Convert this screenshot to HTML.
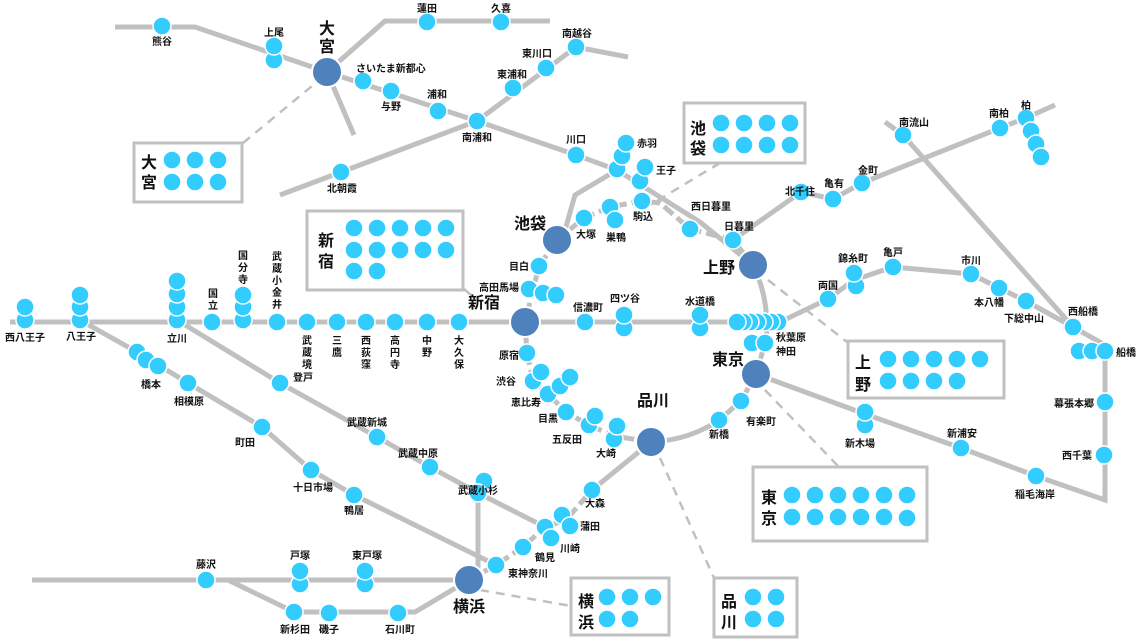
<!DOCTYPE html>
<html><head><meta charset="utf-8"><style>
html,body{margin:0;padding:0;background:#fff}
svg{display:block}
text{font-family:"Liberation Sans","Noto Sans CJK JP",sans-serif;font-weight:bold;fill:#111}
.s{font-size:10px}
.h{font-size:16px}
.l{fill:none;stroke:#c0c0c0;stroke-width:5}
.d{fill:none;stroke:#c0c0c0;stroke-width:2.5;stroke-dasharray:9 7}
.yd{fill:none;stroke:#c0c0c0;stroke-width:5;stroke-dasharray:12 5}
.b{fill:#fff;stroke:#c0c0c0;stroke-width:3}
circle{fill:#33ccff;stroke:#fff;stroke-width:1.5}
circle.hub{fill:#4f81bd;stroke:#fff;stroke-width:2}
</style></head><body>
<svg width="1140" height="642" viewBox="0 0 1140 642" xmlns="http://www.w3.org/2000/svg">
<path class="d" d="M243 143 L312 86"/>
<path class="d" d="M720 163 L650 205"/>
<path class="d" d="M768 280 L847 342"/>
<path class="d" d="M765 390 L838 466"/>
<path class="d" d="M660 458 L714 578"/>
<path class="d" d="M480 590 L571 606"/>
<path class="l" style="stroke-width:2.5" d="M463 288 L472 296"/>
<rect class="b" x="134" y="143" width="108" height="59"/>
<rect class="b" x="307" y="211" width="156" height="79"/>
<rect class="b" x="684" y="103" width="121" height="60"/>
<rect class="b" x="848" y="341" width="156" height="57"/>
<rect class="b" x="753" y="467" width="174" height="74"/>
<rect class="b" x="714" y="578" width="83" height="59"/>
<rect class="b" x="571" y="578" width="98" height="57"/>
<path class="l" d="M115 27 L195 27 L327 72"/>
<path class="l" d="M327 72 L385 21 L550 21"/>
<path class="l" d="M327 72 L354 135"/>
<path class="l" d="M327 72 L477 121 L576 155 L617 170 L700 222 L753 265"/>
<path class="l" d="M280 195 L477 121 L576 47 L628 57"/>
<path class="l" d="M617 170 L575 195 L565 230 L557 240"/>
<path class="yd" d="M557 240 L584 218 L610 207 L642 201 L660 203 L690 229 L733 240 L753 265"/>
<path class="l" d="M753 265 Q770 300 766 340 L756 374"/>
<path class="l" d="M756 374 L741 401 L719 420 Q690 440 651 442"/>
<path class="yd" d="M651 442 L614 436 L589 425 L566 412 L548 394 L533 381 L527 353 L525 322 L539 266 L557 240"/>
<path class="l" d="M10 322 L780 322"/>
<path class="l" d="M780 322 L828 299 L854 280 L893 267 L971 274 L999 288 L1026 301 L1073 327 L1105 345 L1105 500 L1036 476 L961 448 L865 414 L756 374"/>
<path class="l" d="M885 122 L903 135 L1073 327"/>
<path class="l" d="M733 240 L801 192 L833 199 L862 183 L1000 128 L1026 118 L1055 105"/>
<path class="l" d="M177 320 L280 383 L377 437 L430 467 L478 493 L545 527"/>
<path class="l" d="M80 320 L137 352 L188 383 L262 427 L311 470 L354 495 L496 565"/>
<path class="l" d="M478 493 L478 578"/>
<path class="yd" d="M469 580 L496 565 L523 547 L545 527 L566 520 L592 490"/>
<path class="l" d="M592 490 L651 442"/>
<path class="l" d="M32 580 L469 580"/>
<path class="l" d="M228 580 L294 612 L415 612 L469 580"/>
<g>
<circle cx="162" cy="26" r="9"/>
<circle cx="274" cy="60" r="9"/><circle cx="274" cy="46" r="9"/>
<circle cx="427" cy="22" r="9"/><circle cx="501" cy="22" r="9"/>
<circle cx="363" cy="81" r="9"/><circle cx="391" cy="91" r="9"/>
<circle cx="438" cy="111" r="9"/><circle cx="477" cy="121" r="9"/>
<circle cx="513" cy="88" r="9"/><circle cx="546" cy="68" r="9"/><circle cx="576" cy="47" r="9"/>
<circle cx="341" cy="172" r="9"/>
<circle cx="576" cy="155" r="9"/>
<circle cx="617" cy="169" r="9"/><circle cx="622" cy="156" r="9"/><circle cx="626" cy="143" r="9"/>
<circle cx="640" cy="181" r="9"/><circle cx="645" cy="167" r="9"/>
<circle cx="584" cy="218" r="9"/>
<circle cx="610" cy="207" r="9"/><circle cx="615" cy="220" r="9"/>
<circle cx="642" cy="201" r="9"/>
<circle cx="690" cy="229" r="9"/><circle cx="733" cy="240" r="9"/>
<circle cx="801" cy="192" r="9"/><circle cx="833" cy="199" r="9"/><circle cx="862" cy="183" r="9"/>
<circle cx="1000" cy="128" r="9"/><circle cx="903" cy="135" r="9"/>
<circle cx="1026" cy="118" r="9"/><circle cx="1031" cy="131" r="9"/><circle cx="1036" cy="144" r="9"/><circle cx="1041" cy="157" r="9"/>
<circle cx="539" cy="266" r="9"/>
<circle cx="529" cy="289" r="9"/><circle cx="543" cy="293" r="9"/><circle cx="556" cy="295" r="9"/>
<circle cx="527" cy="353" r="9"/>
<circle cx="533" cy="381" r="9"/><circle cx="541" cy="372" r="9"/>
<circle cx="548" cy="394" r="9"/><circle cx="560" cy="386" r="9"/><circle cx="570" cy="377" r="9"/>
<circle cx="566" cy="412" r="9"/>
<circle cx="589" cy="425" r="9"/><circle cx="595" cy="416" r="9"/>
<circle cx="614" cy="439" r="9"/><circle cx="617" cy="426" r="9"/>
<circle cx="719" cy="420" r="9"/><circle cx="741" cy="401" r="9"/>
<circle cx="752" cy="343" r="9"/><circle cx="765" cy="343" r="9"/>
<circle cx="25" cy="320" r="9"/><circle cx="25" cy="307" r="9"/>
<circle cx="80" cy="320" r="9"/><circle cx="80" cy="307" r="9"/><circle cx="80" cy="295" r="9"/>
<circle cx="177" cy="320" r="9"/><circle cx="177" cy="307" r="9"/><circle cx="177" cy="294" r="9"/><circle cx="177" cy="281" r="9"/>
<circle cx="212" cy="322" r="9"/>
<circle cx="243" cy="320" r="9"/><circle cx="243" cy="307" r="9"/><circle cx="243" cy="295" r="9"/>
<circle cx="277" cy="322" r="9"/><circle cx="307" cy="322" r="9"/><circle cx="337" cy="322" r="9"/>
<circle cx="366" cy="322" r="9"/><circle cx="395" cy="322" r="9"/><circle cx="427" cy="322" r="9"/><circle cx="459" cy="322" r="9"/>
<circle cx="585" cy="322" r="9"/>
<circle cx="624" cy="328" r="9"/><circle cx="624" cy="315" r="9"/>
<circle cx="700" cy="328" r="9"/><circle cx="700" cy="315" r="9"/>
<circle cx="778" cy="322" r="9"/><circle cx="771" cy="322" r="9"/><circle cx="764" cy="322" r="9"/><circle cx="757" cy="322" r="9"/><circle cx="750" cy="322" r="9"/><circle cx="743" cy="322" r="9"/><circle cx="737" cy="322" r="9"/>
<circle cx="828" cy="299" r="9"/>
<circle cx="856" cy="286" r="9"/><circle cx="854" cy="273" r="9"/>
<circle cx="893" cy="267" r="9"/><circle cx="971" cy="274" r="9"/><circle cx="999" cy="288" r="9"/><circle cx="1026" cy="301" r="9"/>
<circle cx="1073" cy="327" r="9"/>
<circle cx="1079" cy="351" r="9"/><circle cx="1092" cy="351" r="9"/><circle cx="1105" cy="351" r="9"/>
<circle cx="1105" cy="402" r="9"/><circle cx="1104" cy="455" r="9"/>
<circle cx="1036" cy="476" r="9"/><circle cx="961" cy="448" r="9"/>
<circle cx="865" cy="425" r="9"/><circle cx="865" cy="412" r="9"/>
<circle cx="137" cy="352" r="9"/><circle cx="146" cy="360" r="9"/><circle cx="158" cy="366" r="9"/>
<circle cx="188" cy="383" r="9"/><circle cx="262" cy="427" r="9"/><circle cx="311" cy="470" r="9"/><circle cx="354" cy="495" r="9"/>
<circle cx="280" cy="383" r="9"/><circle cx="377" cy="437" r="9"/><circle cx="430" cy="467" r="9"/>
<circle cx="484" cy="481" r="9"/><circle cx="478" cy="493" r="9"/>
<circle cx="496" cy="565" r="9"/><circle cx="523" cy="547" r="9"/>
<circle cx="545" cy="527" r="9"/><circle cx="551" cy="538" r="9"/>
<circle cx="562" cy="515" r="9"/><circle cx="570" cy="526" r="9"/>
<circle cx="592" cy="490" r="9"/>
<circle cx="206" cy="580" r="9"/>
<circle cx="300" cy="584" r="9"/><circle cx="300" cy="571" r="9"/>
<circle cx="365" cy="584" r="9"/><circle cx="365" cy="571" r="9"/>
<circle cx="294" cy="612" r="9"/><circle cx="329" cy="613" r="9"/><circle cx="398" cy="613" r="9"/>
</g>
<circle class="hub" cx="327" cy="72" r="15"/>
<circle class="hub" cx="525" cy="322" r="15"/>
<circle class="hub" cx="557" cy="240" r="15"/>
<circle class="hub" cx="753" cy="265" r="15"/>
<circle class="hub" cx="756" cy="374" r="15"/>
<circle class="hub" cx="651" cy="442" r="15"/>
<circle class="hub" cx="469" cy="580" r="15"/>
<g>
<circle cx="172" cy="160" r="9"/><circle cx="195" cy="160" r="9"/><circle cx="218" cy="160" r="9"/>
<circle cx="172" cy="182" r="9"/><circle cx="195" cy="182" r="9"/><circle cx="218" cy="182" r="9"/>
<circle cx="354" cy="228" r="9"/><circle cx="377" cy="228" r="9"/><circle cx="400" cy="228" r="9"/><circle cx="423" cy="228" r="9"/><circle cx="446" cy="228" r="9"/>
<circle cx="354" cy="250" r="9"/><circle cx="377" cy="250" r="9"/><circle cx="400" cy="250" r="9"/><circle cx="423" cy="250" r="9"/><circle cx="446" cy="250" r="9"/>
<circle cx="354" cy="271" r="9"/><circle cx="377" cy="271" r="9"/>
<circle cx="721" cy="123" r="9"/><circle cx="744" cy="123" r="9"/><circle cx="767" cy="123" r="9"/><circle cx="790" cy="123" r="9"/>
<circle cx="721" cy="145" r="9"/><circle cx="744" cy="145" r="9"/><circle cx="767" cy="145" r="9"/><circle cx="790" cy="145" r="9"/>
<circle cx="888" cy="359" r="9"/><circle cx="911" cy="359" r="9"/><circle cx="934" cy="359" r="9"/><circle cx="957" cy="359" r="9"/><circle cx="980" cy="359" r="9"/>
<circle cx="888" cy="381" r="9"/><circle cx="911" cy="381" r="9"/><circle cx="934" cy="381" r="9"/><circle cx="957" cy="381" r="9"/>
<circle cx="792" cy="495" r="9"/><circle cx="815" cy="495" r="9"/><circle cx="838" cy="495" r="9"/><circle cx="861" cy="495" r="9"/><circle cx="884" cy="495" r="9"/><circle cx="907" cy="495" r="9"/>
<circle cx="792" cy="517" r="9"/><circle cx="815" cy="517" r="9"/><circle cx="838" cy="517" r="9"/><circle cx="861" cy="517" r="9"/><circle cx="884" cy="517" r="9"/><circle cx="907" cy="518" r="9"/>
<circle cx="753" cy="597" r="9"/><circle cx="776" cy="597" r="9"/><circle cx="753" cy="619" r="9"/><circle cx="776" cy="619" r="9"/>
<circle cx="607" cy="597" r="9"/><circle cx="630" cy="597" r="9"/><circle cx="653" cy="597" r="9"/>
<circle cx="607" cy="619" r="9"/><circle cx="630" cy="619" r="9"/>
</g>
<text class="h" x="141" y="168">大</text><text class="h" x="141" y="188">宮</text>
<text class="h" x="318" y="246">新</text><text class="h" x="318" y="267">宿</text>
<text class="h" x="690" y="134">池</text><text class="h" x="690" y="154">袋</text>
<text class="h" x="855" y="368">上</text><text class="h" x="855" y="390">野</text>
<text class="h" x="761" y="503">東</text><text class="h" x="761" y="524">京</text>
<text class="h" x="721" y="607">品</text><text class="h" x="721" y="628">川</text>
<text class="h" x="578" y="607">横</text><text class="h" x="578" y="628">浜</text>
<text class="h" x="319" y="34">大</text><text class="h" x="319" y="52">宮</text>
<text class="h" x="468" y="308">新宿</text>
<text class="h" x="514" y="229">池袋</text>
<text class="h" x="703" y="273">上野</text>
<text class="h" x="712" y="365">東京</text>
<text class="h" x="637" y="406">品川</text>
<text class="h" x="453" y="612">横浜</text>
<g>
<text class="s" x="152" y="45">熊谷</text>
<text class="s" x="264" y="36">上尾</text>
<text class="s" x="417" y="12">蓮田</text>
<text class="s" x="491" y="12">久喜</text>
<text class="s" x="356" y="72">さいたま新都心</text>
<text class="s" x="381" y="110">与野</text>
<text class="s" x="427" y="98">浦和</text>
<text class="s" x="462" y="141">南浦和</text>
<text class="s" x="497" y="78">東浦和</text>
<text class="s" x="522" y="57">東川口</text>
<text class="s" x="562" y="37">南越谷</text>
<text class="s" x="327" y="192">北朝霞</text>
<text class="s" x="566" y="143">川口</text>
<text class="s" x="637" y="147">赤羽</text>
<text class="s" x="656" y="174">王子</text>
<text class="s" x="576" y="238">大塚</text>
<text class="s" x="606" y="241">巣鴨</text>
<text class="s" x="633" y="220">駒込</text>
<text class="s" x="691" y="210">西日暮里</text>
<text class="s" x="724" y="230">日暮里</text>
<text class="s" x="785" y="195">北千住</text>
<text class="s" x="824" y="187">亀有</text>
<text class="s" x="858" y="174">金町</text>
<text class="s" x="899" y="126">南流山</text>
<text class="s" x="989" y="117">南柏</text>
<text class="s" x="1021" y="109">柏</text>
<text class="s" x="509" y="270">目白</text>
<text class="s" x="479" y="291">高田馬場</text>
<text class="s" x="499" y="359">原宿</text>
<text class="s" x="496" y="385">渋谷</text>
<text class="s" x="511" y="406">恵比寿</text>
<text class="s" x="538" y="422">目黒</text>
<text class="s" x="552" y="443">五反田</text>
<text class="s" x="596" y="457">大崎</text>
<text class="s" x="746" y="425">有楽町</text>
<text class="s" x="709" y="438">新橋</text>
<text class="s" x="776" y="341">秋葉原</text>
<text class="s" x="776" y="355">神田</text>
<text class="s" x="5" y="341">西八王子</text>
<text class="s" x="66" y="340">八王子</text>
<text class="s" x="167" y="342">立川</text>
<text class="s" x="208" y="297">国</text><text class="s" x="208" y="309">立</text>
<text class="s" x="238" y="259">国</text><text class="s" x="238" y="271">分</text><text class="s" x="238" y="283">寺</text>
<text class="s" x="272" y="260">武</text><text class="s" x="272" y="272">蔵</text><text class="s" x="272" y="284">小</text><text class="s" x="272" y="296">金</text><text class="s" x="272" y="308">井</text>
<text class="s" x="302" y="344">武</text><text class="s" x="302" y="356">蔵</text><text class="s" x="302" y="368">境</text>
<text class="s" x="332" y="344">三</text><text class="s" x="332" y="356">鷹</text>
<text class="s" x="361" y="344">西</text><text class="s" x="361" y="356">荻</text><text class="s" x="361" y="368">窪</text>
<text class="s" x="390" y="344">高</text><text class="s" x="390" y="356">円</text><text class="s" x="390" y="368">寺</text>
<text class="s" x="422" y="344">中</text><text class="s" x="422" y="356">野</text>
<text class="s" x="454" y="344">大</text><text class="s" x="454" y="356">久</text><text class="s" x="454" y="368">保</text>
<text class="s" x="293" y="381">登戸</text>
<text class="s" x="573" y="311">信濃町</text>
<text class="s" x="610" y="302">四ツ谷</text>
<text class="s" x="685" y="305">水道橋</text>
<text class="s" x="818" y="289">両国</text>
<text class="s" x="838" y="262">錦糸町</text>
<text class="s" x="883" y="256">亀戸</text>
<text class="s" x="961" y="264">市川</text>
<text class="s" x="974" y="306">本八幡</text>
<text class="s" x="1004" y="322">下総中山</text>
<text class="s" x="1068" y="315">西船橋</text>
<text class="s" x="1116" y="356">船橋</text>
<text class="s" x="1054" y="407">幕張本郷</text>
<text class="s" x="1062" y="459">西千葉</text>
<text class="s" x="1015" y="498">稲毛海岸</text>
<text class="s" x="947" y="437">新浦安</text>
<text class="s" x="845" y="447">新木場</text>
<text class="s" x="141" y="388">橋本</text>
<text class="s" x="174" y="405">相模原</text>
<text class="s" x="235" y="446">町田</text>
<text class="s" x="293" y="491">十日市場</text>
<text class="s" x="344" y="514">鴨居</text>
<text class="s" x="347" y="426">武蔵新城</text>
<text class="s" x="398" y="457">武蔵中原</text>
<text class="s" x="458" y="494">武蔵小杉</text>
<text class="s" x="585" y="507">大森</text>
<text class="s" x="580" y="530">蒲田</text>
<text class="s" x="560" y="552">川崎</text>
<text class="s" x="535" y="561">鶴見</text>
<text class="s" x="508" y="577">東神奈川</text>
<text class="s" x="196" y="568">藤沢</text>
<text class="s" x="290" y="559">戸塚</text>
<text class="s" x="352" y="559">東戸塚</text>
<text class="s" x="280" y="633">新杉田</text>
<text class="s" x="319" y="633">磯子</text>
<text class="s" x="385" y="633">石川町</text>
</g>
</svg>
</body></html>
